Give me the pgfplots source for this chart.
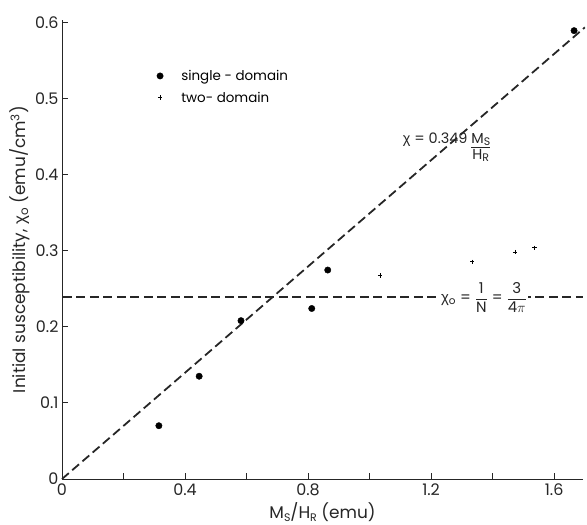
\documentclass[border=0pt]{standalone}
\usepackage{amsmath}
\usepackage{fontspec}
\setmainfont{Poppins}
\newfontfamily\greekf{Liberation Sans}
\usepackage{pgfplots}
\pgfplotsset{compat=1.18}
\newcommand{\chisym}{{\greekf χ}}
\newcommand{\sub}[1]{\raisebox{-0.3ex}{\fontsize{11}{11}\selectfont #1}}
\begin{document}
\begin{tikzpicture}
\path[use as bounding box] (0,0) rectangle (587bp,525bp);
\begin{axis}[
  at={(62bp,46bp)}, anchor=south west,
  scale only axis, width=521bp, height=459bp,
  xmin=0, xmax=1.694, ymin=0, ymax=0.603,
  clip=false,
  axis x line=bottom, axis y line=left,
  axis line style={-, line width=1pt, black!85},
  xtick={0,0.4,0.8,1.2,1.6}, xticklabels={0,0.4,0.8,1.2,1.6},
  minor xtick={0.2,0.6,1.0,1.4},
  ytick={0,0.1,0.2,0.3,0.4,0.5,0.6}, yticklabels={0,0.1,0.2,0.3,0.4,0.5,0.6},
  tick align=inside, major tick length=6bp, minor tick length=6bp,
  tick style={black!85, line width=0.8pt},
  ticklabel style={font=\fontsize{16}{16}\selectfont, text=black!85},
  xticklabel style={yshift=-1bp},
  xlabel={M\sub{S}/H\sub{R} (emu)},
  ylabel={Initial susceptibility, \chisym\textsubscript{o} (emu/cm\textsuperscript{3})},
  label style={font=\fontsize{17}{18}\selectfont, text=black!85},
  xlabel style={at={(axis description cs:0.5,-0.073)}, anchor=center},
  ylabel style={at={(axis description cs:-0.081,0.5)}, anchor=center},
  legend style={at={(rel axis cs:0.176,0.9)}, anchor=north west, draw=none, fill=none,
    font=\fontsize{13.5}{15}\selectfont, row sep=6bp},
  legend cell align=left,
]
\addplot[only marks, mark=*, mark size=3.2bp, black] coordinates {
  (0.315,0.070) (0.446,0.135) (0.582,0.208) (0.812,0.224) (0.864,0.2745) (1.665,0.589)
};
\addlegendentry{\hspace*{16bp}single - domain}
\addplot[only marks, mark=+, mark size=2.2bp, line width=0.9pt, black] coordinates {
  (1.034,0.2676) (1.334,0.2854) (1.473,0.298) (1.536,0.3037)
};
\addlegendentry{\hspace*{16bp}two- domain}
\addplot[black!85, line width=1.8pt, dash pattern=on 9bp off 4.5bp, forget plot] coordinates {(0,0) (1.70,0.5933)};
\addplot[black!85, line width=1.8pt, dash pattern=on 9bp off 4.5bp, forget plot] coordinates {(0.003,0.2387) (1.694,0.2387)};
\node[fill=white, inner sep=1.5bp, font=\fontsize{15}{17}\selectfont, text=black!85] at (axis cs:1.372,0.2387)
  {\chisym\textsubscript{o} = $\dfrac{\text{1}}{\text{N}}$ = $\dfrac{\text{3}}{\text{4}\pi}$};
\node[anchor=base west, inner sep=0pt, font=\fontsize{14.5}{16}\selectfont, text=black!85] at (axis cs:1.108,0.441)
  {\chisym{} = 0.349 \renewcommand{\arraystretch}{1.05}\begin{tabular}[t]{@{}c@{}}\underline{M\sub{S}}\\[-1bp]H\sub{R}\end{tabular}};
\end{axis}
\end{tikzpicture}
\end{document}
